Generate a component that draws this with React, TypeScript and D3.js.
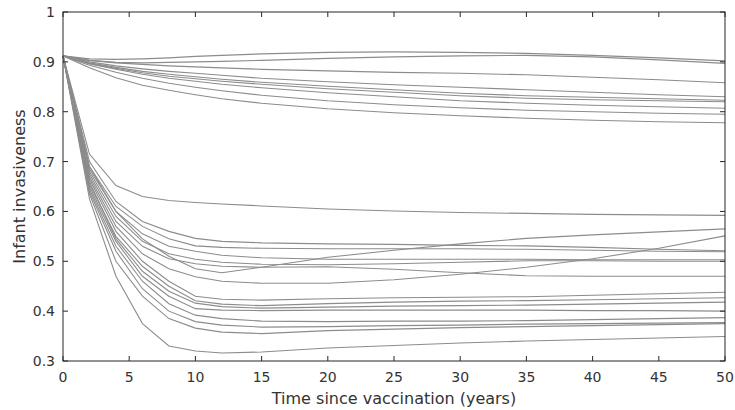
import React from "react";
import * as d3 from "d3";

// time points (years since vaccination)
const years = [0, 2, 4, 6, 8, 10, 12, 15, 20, 25, 30, 35, 40, 45, 50];

// upper group of trajectories
const upper1 = [0.912, 0.906, 0.905, 0.906, 0.908, 0.911, 0.913, 0.916, 0.919, 0.92, 0.919, 0.917, 0.913, 0.908, 0.902];
const upper2 = [0.912, 0.903, 0.899, 0.898, 0.899, 0.9, 0.901, 0.903, 0.907, 0.91, 0.912, 0.913, 0.91, 0.904, 0.897];
const upper3 = [0.912, 0.903, 0.898, 0.895, 0.892, 0.89, 0.888, 0.885, 0.882, 0.879, 0.877, 0.874, 0.869, 0.864, 0.858];
const upper4 = [0.912, 0.9, 0.892, 0.886, 0.881, 0.877, 0.873, 0.867, 0.86, 0.854, 0.849, 0.844, 0.839, 0.834, 0.83];
const upper5 = [0.912, 0.898, 0.889, 0.881, 0.875, 0.87, 0.865, 0.859, 0.851, 0.844, 0.837, 0.832, 0.829, 0.826, 0.823];
const upper6 = [0.912, 0.897, 0.887, 0.878, 0.871, 0.866, 0.861, 0.855, 0.846, 0.839, 0.832, 0.827, 0.824, 0.822, 0.82];
const upper7 = [0.912, 0.896, 0.885, 0.875, 0.867, 0.861, 0.855, 0.848, 0.838, 0.83, 0.822, 0.817, 0.813, 0.81, 0.807];
const upper8 = [0.912, 0.893, 0.879, 0.867, 0.857, 0.849, 0.842, 0.833, 0.822, 0.814, 0.808, 0.803, 0.8, 0.797, 0.795];
const upper9 = [0.912, 0.888, 0.868, 0.853, 0.843, 0.834, 0.826, 0.817, 0.806, 0.798, 0.792, 0.787, 0.783, 0.78, 0.778];

// lower group of trajectories
const lower1 = [0.912, 0.715, 0.652, 0.63, 0.622, 0.618, 0.615, 0.611, 0.605, 0.601, 0.598, 0.596, 0.594, 0.593, 0.592];
const lower2 = [0.912, 0.69, 0.6, 0.545, 0.51, 0.485, 0.477, 0.488, 0.508, 0.522, 0.535, 0.546, 0.553, 0.559, 0.565];
const lower3 = [0.912, 0.67, 0.57, 0.515, 0.485, 0.469, 0.46, 0.456, 0.456, 0.463, 0.474, 0.488, 0.505, 0.526, 0.551];
const lower4 = [0.912, 0.7, 0.62, 0.58, 0.56, 0.546, 0.54, 0.537, 0.535, 0.534, 0.532, 0.531, 0.528, 0.524, 0.521];
const lower5 = [0.912, 0.69, 0.61, 0.57, 0.545, 0.531, 0.528, 0.526, 0.525, 0.525, 0.525, 0.524, 0.522, 0.52, 0.519];
const lower6 = [0.912, 0.685, 0.6, 0.555, 0.53, 0.52, 0.512, 0.507, 0.504, 0.504, 0.504, 0.504, 0.503, 0.503, 0.503];
const lower7 = [0.912, 0.68, 0.59, 0.54, 0.515, 0.504, 0.498, 0.494, 0.493, 0.495, 0.498, 0.501, 0.501, 0.5, 0.5];
const lower8 = [0.912, 0.675, 0.58, 0.53, 0.505, 0.495, 0.49, 0.488, 0.489, 0.484, 0.477, 0.471, 0.47, 0.47, 0.47];
const lower9 = [0.912, 0.665, 0.56, 0.5, 0.46, 0.43, 0.424, 0.422, 0.425, 0.427, 0.428, 0.429, 0.432, 0.435, 0.438];
const lower10 = [0.912, 0.655, 0.55, 0.49, 0.45, 0.421, 0.414, 0.411, 0.415, 0.418, 0.42, 0.421, 0.423, 0.425, 0.427];
const lower11 = [0.912, 0.66, 0.545, 0.48, 0.44, 0.416, 0.409, 0.406, 0.408, 0.41, 0.411, 0.412, 0.414, 0.416, 0.418];
const lower12 = [0.912, 0.65, 0.54, 0.47, 0.43, 0.405, 0.402, 0.401, 0.402, 0.402, 0.402, 0.402, 0.401, 0.401, 0.4];
const lower13 = [0.912, 0.645, 0.53, 0.46, 0.415, 0.392, 0.385, 0.38, 0.379, 0.38, 0.38, 0.381, 0.383, 0.385, 0.387];
const lower14 = [0.912, 0.64, 0.52, 0.445, 0.4, 0.379, 0.372, 0.368, 0.369, 0.371, 0.372, 0.374, 0.375, 0.376, 0.377];
const lower15 = [0.912, 0.635, 0.5, 0.43, 0.385, 0.366, 0.358, 0.355, 0.361, 0.364, 0.367, 0.369, 0.371, 0.373, 0.375];
const lower16 = [0.912, 0.625, 0.47, 0.375, 0.33, 0.32, 0.316, 0.318, 0.326, 0.331, 0.336, 0.34, 0.343, 0.346, 0.349];

const allSeries = [
  upper1, upper2, upper3, upper4, upper5, upper6, upper7, upper8, upper9,
  lower1, lower2, lower3, lower4, lower5, lower6, lower7, lower8,
  lower9, lower10, lower11, lower12, lower13, lower14, lower15, lower16,
];

const xTicks = [0, 5, 10, 15, 20, 25, 30, 35, 40, 45, 50];
const yTicks = [0.3, 0.4, 0.5, 0.6, 0.7, 0.8, 0.9, 1];

const xLabel = "Time since vaccination (years)";
const yLabel = "Infant invasiveness";

export default function App() {
  const W = 735, H = 410;
  const m = { left: 63, right: 10, top: 12, bottom: 49 };
  const x = d3.scaleLinear().domain([0, 50]).range([m.left, W - m.right]);
  const y = d3.scaleLinear().domain([0.3, 1]).range([H - m.bottom, m.top]);
  const line = d3.line<number>().x((_, i) => x(years[i])).y((d) => y(d));
  const axisColor = "#262626";
  const textColor = "#333333";
  const font = "DejaVu Sans, sans-serif";
  const tl = 5;
  const x0 = x(0), x1 = x(50), y0 = y(0.3), y1 = y(1);
  const yMid = (y0 + y1) / 2;
  const xMid = (x0 + x1) / 2;

  return (
    <svg width={W} height={H} style={{ position: "absolute", left: 0, top: 0, background: "#fff" }}>
      <g>
        {allSeries.map((s, i) => (
          <path key={i} d={line(s) || ""} fill="none" stroke="#8c8c8c" strokeWidth={1.1} />
        ))}
      </g>
      <rect x={x0} y={y1} width={x1 - x0} height={y0 - y1} fill="none" stroke={axisColor} strokeWidth={1} />
      {xTicks.map((t) => (
        <g key={"x" + t}>
          <line x1={x(t)} x2={x(t)} y1={y0} y2={y0 - tl} stroke={axisColor} />
          <line x1={x(t)} x2={x(t)} y1={y1} y2={y1 + tl} stroke={axisColor} />
          <text x={x(t)} y={y0 + 21} textAnchor="middle" fontFamily={font} fontSize={14} fill={textColor}>
            {t}
          </text>
        </g>
      ))}
      {yTicks.map((t) => (
        <g key={"y" + t}>
          <line x1={x0} x2={x0 + tl} y1={y(t)} y2={y(t)} stroke={axisColor} />
          <line x1={x1} x2={x1 - tl} y1={y(t)} y2={y(t)} stroke={axisColor} />
          <text x={x0 - 8} y={y(t) + 5} textAnchor="end" fontFamily={font} fontSize={14} fill={textColor}>
            {d3.format("")(t)}
          </text>
        </g>
      ))}
      <text x={xMid} y={H - 6} textAnchor="middle" fontFamily={font} fontSize={16} fill={textColor}>
        {xLabel}
      </text>
      <text
        transform={`translate(${25},${yMid}) rotate(-90)`}
        textAnchor="middle"
        fontFamily={font}
        fontSize={16}
        fill={textColor}
      >
        {yLabel}
      </text>
    </svg>
  );
}
